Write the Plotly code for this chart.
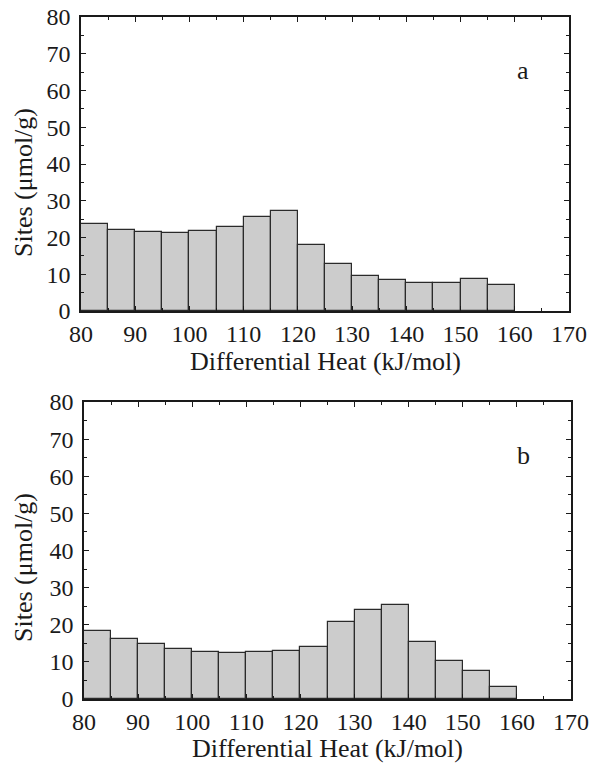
import plotly.graph_objects as go

# Data (bins of 5 kJ/mol, centers)
bin_centers = [82.5, 87.5, 92.5, 97.5, 102.5, 107.5, 112.5, 117.5,
               122.5, 127.5, 132.5, 137.5, 142.5, 147.5, 152.5, 157.5]
sites_a = [23.6, 22.0, 21.4, 21.3, 21.8, 22.8, 25.7, 27.3,
           18.0, 12.8, 9.5, 8.4, 7.7, 7.7, 8.6, 7.2]
sites_b = [18.3, 16.2, 14.8, 13.4, 12.6, 12.5, 12.7, 12.9,
           13.9, 20.7, 24.0, 25.2, 15.3, 10.2, 7.5, 3.3]
x_ticks = [80, 90, 100, 110, 120, 130, 140, 150, 160, 170]
y_ticks = [0, 10, 20, 30, 40, 50, 60, 70, 80]
panel_labels = ["a", "b"]
x_title = "Differential Heat (kJ/mol)"
y_title = "Sites (μmol/g)"

FONT = "Liberation Serif, Times New Roman, serif"
INK = "#1a1a1a"

fig = go.Figure()
for i, vals in enumerate([sites_a, sites_b]):
    fig.add_trace(go.Bar(
        x=bin_centers, y=vals, width=5,
        marker=dict(color="#cccccc", line=dict(color="#2a2a2a", width=1.2)),
        xaxis="x" if i == 0 else "x2", yaxis="y" if i == 0 else "y2",
        showlegend=False, hoverinfo="x+y"))

def xax(domain, anchor):
    return dict(domain=domain, anchor=anchor, range=[80, 170], tickmode="array",
                tickvals=x_ticks, ticks="inside", ticklen=5, tickwidth=1.2,
                tickcolor=INK, showline=True, linecolor=INK, linewidth=1.5,
                mirror="ticks", showgrid=False, zeroline=False, automargin=False,
                minor=dict(dtick=5, ticks="inside", ticklen=3, tickcolor=INK),
                tickfont=dict(family=FONT, size=24, color=INK), ticklabelstandoff=0)

def yax(domain, anchor):
    return dict(domain=domain, anchor=anchor, range=[0, 80], tickmode="array",
                tickvals=y_ticks, ticks="inside", ticklen=5, tickwidth=1.2,
                tickcolor=INK, showline=True, linecolor=INK, linewidth=1.5,
                mirror="ticks", showgrid=False, zeroline=False, automargin=False,
                minor=dict(dtick=5, ticks="inside", ticklen=3, tickcolor=INK),
                tickfont=dict(family=FONT, size=24, color=INK), ticklabelstandoff=4)

W, H = 593, 764
top = dict(x0=81, x1=569, y0=17, y1=311)
bot = dict(x0=84, x1=571, y0=402, y1=699)

def dx(p):
    return [p["x0"] / W, p["x1"] / W]

def dy(p):
    return [1 - p["y1"] / H, 1 - p["y0"] / H]

fig.update_layout(
    width=W, height=H, margin=dict(l=0, r=0, t=0, b=0, autoexpand=False),
    paper_bgcolor="white", plot_bgcolor="white", bargap=0,
    xaxis=xax(dx(top), "y"), yaxis=yax(dy(top), "x"),
    xaxis2=xax(dx(bot), "y2"), yaxis2=yax(dy(bot), "x2"),
)

ann = []
for p, lab, title_y, ylab_y, lab_y in [(top, panel_labels[0], 361, 183, 70),
                                       (bot, panel_labels[1], 748, 568, 455)]:
    ann.append(dict(text=x_title, x=(p["x0"] + p["x1"]) / 2 / W, y=1 - title_y / H,
                    xref="paper", yref="paper", showarrow=False,
                    xanchor="center", yanchor="middle",
                    font=dict(family=FONT, size=26, color=INK)))
    ann.append(dict(text=y_title, x=23 / W, y=1 - ylab_y / H, textangle=-90,
                    xref="paper", yref="paper", showarrow=False,
                    xanchor="center", yanchor="middle",
                    font=dict(family=FONT, size=26, color=INK)))
    ann.append(dict(text=lab, x=523 / W, y=1 - lab_y / H,
                    xref="paper", yref="paper", showarrow=False,
                    xanchor="center", yanchor="middle",
                    font=dict(family=FONT, size=26, color=INK)))
fig.update_layout(annotations=ann)

fig.write_html("out.html")
